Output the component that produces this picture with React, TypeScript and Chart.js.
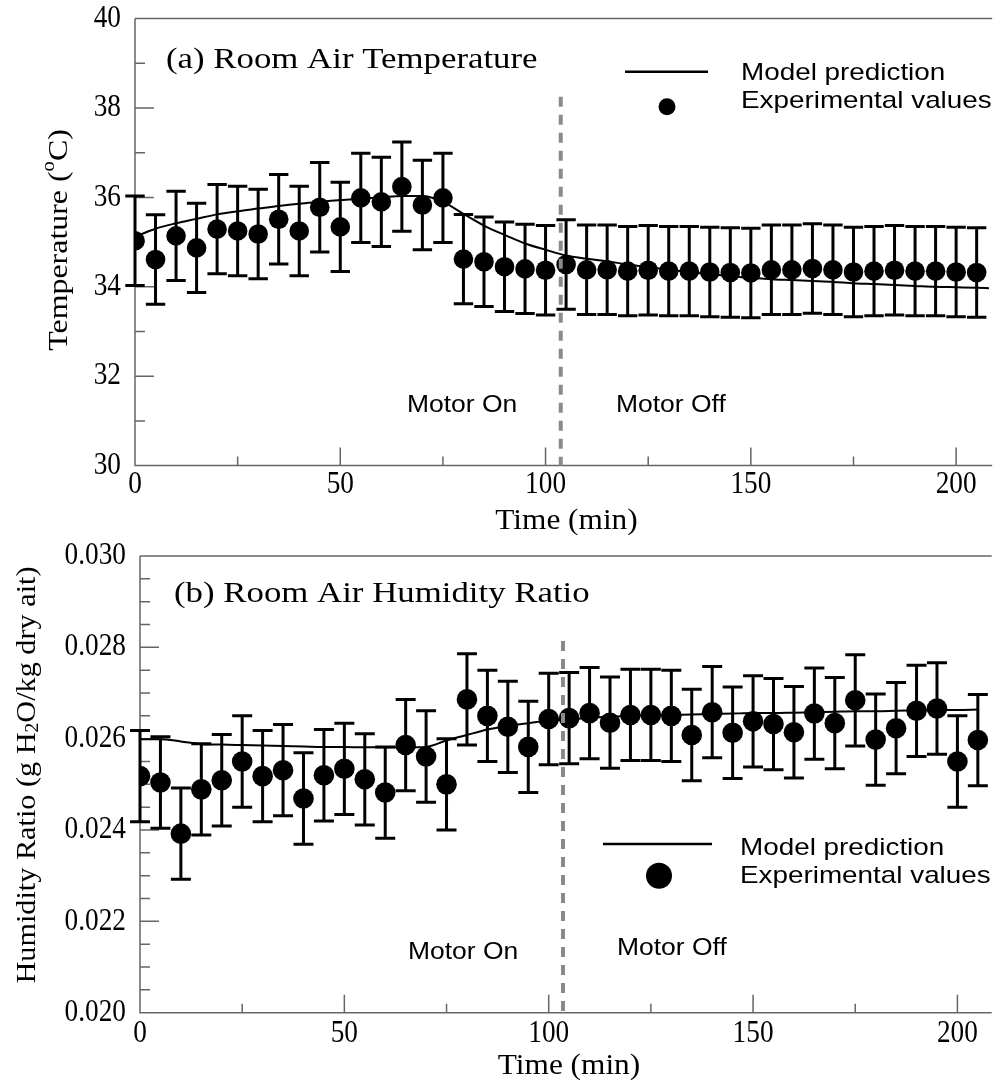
import React, { useEffect, useRef } from "react";
import { Chart, registerables } from "chart.js";
Chart.register(...registerables);

// ---------------- DATA ----------------
const TIME = [0, 5, 10, 15, 20, 25, 30, 35, 40, 45, 50, 55, 60, 65, 70, 75, 80, 85, 90, 95, 100, 105, 110, 115, 120, 125, 130, 135, 140, 145, 150, 155, 160, 165, 170, 175, 180, 185, 190, 195, 200, 205];

const TEMP_EXP = [35.03, 34.61, 35.14, 34.87, 35.29, 35.25, 35.18, 35.51, 35.25, 35.78, 35.34, 35.99, 35.9, 36.24, 35.83, 35.99, 34.62, 34.56, 34.45, 34.4, 34.37, 34.5, 34.38, 34.38, 34.35, 34.37, 34.35, 34.35, 34.33, 34.32, 34.31, 34.38, 34.38, 34.41, 34.38, 34.33, 34.35, 34.37, 34.35, 34.35, 34.33, 34.32];
const TEMP_ERR = 1.0;

const TEMP_MODEL_TIME = [0, 5, 10, 15, 20, 25, 30, 35, 40, 45, 50, 55, 60, 65, 70, 75, 80, 85, 90, 95, 100, 105, 110, 115, 120, 125, 130, 135, 140, 145, 150, 155, 160, 165, 170, 175, 180, 185, 190, 195, 200, 205, 208];
const TEMP_MODEL = [35.12, 35.3, 35.42, 35.52, 35.62, 35.69, 35.75, 35.81, 35.86, 35.9, 35.94, 35.97, 36.0, 36.03, 36.03, 35.9, 35.63, 35.37, 35.16, 34.97, 34.83, 34.7, 34.63, 34.57, 34.5, 34.44, 34.38, 34.33, 34.28, 34.24, 34.2, 34.17, 34.15, 34.13, 34.11, 34.08, 34.06, 34.04, 34.02, 34.0, 33.99, 33.98, 33.97];

const HUM_EXP = [0.02518, 0.02504, 0.02392, 0.02489, 0.02509, 0.0255, 0.02518, 0.02531, 0.02469, 0.0252, 0.02534, 0.02511, 0.02482, 0.02586, 0.02561, 0.025, 0.02686, 0.0265, 0.02626, 0.02582, 0.02643, 0.02645, 0.02656, 0.02635, 0.02652, 0.02652, 0.0265, 0.02608, 0.02658, 0.02613, 0.02638, 0.02632, 0.02614, 0.02655, 0.02634, 0.02684, 0.02598, 0.02623, 0.02661, 0.02666, 0.0255, 0.02597];
const HUM_ERR = 0.001;

const HUM_MODEL_TIME = TIME;
const HUM_MODEL = [0.02599, 0.02599, 0.02594, 0.02588, 0.02587, 0.02586, 0.02585, 0.02584, 0.02583, 0.02582, 0.02582, 0.02581, 0.02581, 0.02581, 0.02582, 0.02596, 0.02608, 0.0262, 0.02628, 0.02634, 0.02639, 0.02642, 0.02646, 0.02648, 0.0265, 0.02651, 0.02652, 0.02653, 0.02654, 0.02655, 0.02656, 0.02656, 0.02657, 0.02658, 0.02659, 0.0266, 0.0266, 0.02661, 0.02662, 0.02663, 0.02663, 0.02664];

const X_MAJOR = [0, 50, 100, 150, 200];
const X_MINOR = [25, 75, 125, 175];
const TEMP_MAJOR = [30, 32, 34, 36, 38, 40];
const TEMP_MINOR = [31, 33, 35, 37, 39];
const HUM_MAJOR = [0.02, 0.022, 0.024, 0.026, 0.028, 0.03];
const HUM_MINOR = [0.0205, 0.021, 0.0215, 0.0225, 0.023, 0.0235, 0.0245, 0.025, 0.0255, 0.0265, 0.027, 0.0275, 0.0285, 0.029, 0.0295];

const MOTOR_SWITCH_A = 103.7;
const MOTOR_SWITCH_B = 103.5;

// ---------------- STYLE HELPERS ----------------
const SERIF = '"Liberation Serif", "Times New Roman", serif';
const SANS = '"Liberation Sans", Arial, sans-serif';

function drawStretched(ctx: CanvasRenderingContext2D, text: string, x: number, y: number, font: string, align: string, sx: number, baseline: CanvasTextBaseline = "alphabetic") {
  ctx.save();
  ctx.font = font;
  ctx.textBaseline = baseline;
  ctx.textAlign = "left";
  const w = ctx.measureText(text).width * sx;
  let x0 = x;
  if (align === "center") x0 = x - w / 2;
  else if (align === "right") x0 = x - w;
  ctx.translate(x0, y);
  ctx.scale(sx, 1);
  ctx.fillStyle = "#000";
  ctx.fillText(text, 0, 0);
  ctx.restore();
}

type Seg = { t: string; mode?: "sup" | "sub" };
function drawRich(ctx: CanvasRenderingContext2D, segs: Seg[], cx: number, cy: number, size: number, sx: number, rotate: boolean) {
  ctx.save();
  ctx.translate(cx, cy);
  if (rotate) ctx.rotate(-Math.PI / 2);
  ctx.scale(sx, 1);
  ctx.textBaseline = "middle";
  ctx.textAlign = "left";
  ctx.fillStyle = "#000";
  const fontOf = (s: Seg) => `${s.mode ? Math.round(size * 0.65) : size}px ${SERIF}`;
  const widths = segs.map((s) => {
    ctx.font = fontOf(s);
    return ctx.measureText(s.t).width;
  });
  const total = widths.reduce((a, b) => a + b, 0);
  let x = -total / 2;
  segs.forEach((s, i) => {
    ctx.font = fontOf(s);
    const dy = s.mode === "sup" ? -size * 0.38 : s.mode === "sub" ? size * 0.2 : 0;
    ctx.fillText(s.t, x, dy);
    x += widths[i];
  });
  ctx.restore();
}

interface Panel {
  pad: { top: number; bottom: number; left: number; right: number };
  xMax: number;
  yMin: number;
  yMax: number;
  yMajor: number[];
  yMinor: number[];
  yFmt: (v: number) => string;
  exp: number[];
  err: number;
  modelTime: number[];
  model: number[];
  dotR: number;
  capHalf: number;
  dashX: number;
  dashTop: number;
  title: string;
  titleX: number;
  titleY: number;
  yTitle: Seg[];
  yTitleX: number;
  yTitleY: number;
  yTitleSx: number;
  xTitleY: number;
  xLabelOff: number;
  legLine: [number, number, number];
  legTextX: number;
  legY1: number;
  legY2: number;
  legDot: [number, number, number];
  motorOn: [number, number];
  motorOff: [number, number];
}

function makeDeco(p: Panel) {
  return {
    id: "deco",
    beforeDatasetsDraw(chart: any) {
      const ctx: CanvasRenderingContext2D = chart.ctx;
      const xs = chart.scales.x;
      const ys = chart.scales.y;
      const a = chart.chartArea;
      ctx.save();
      // axes & frame
      ctx.strokeStyle = "#666";
      ctx.lineWidth = 1.5;
      ctx.beginPath();
      ctx.moveTo(a.left, a.top);
      ctx.lineTo(a.right + 2, a.top);
      ctx.moveTo(a.left, a.top);
      ctx.lineTo(a.left, a.bottom);
      ctx.lineTo(a.right + 2, a.bottom);
      // ticks (inward)
      X_MAJOR.forEach((v) => {
        const px = xs.getPixelForValue(v);
        ctx.moveTo(px, a.bottom);
        ctx.lineTo(px, a.bottom - 18);
      });
      X_MINOR.forEach((v) => {
        const px = xs.getPixelForValue(v);
        ctx.moveTo(px, a.bottom);
        ctx.lineTo(px, a.bottom - 9);
      });
      p.yMajor.forEach((v) => {
        const py = ys.getPixelForValue(v);
        ctx.moveTo(a.left, py);
        ctx.lineTo(a.left + 19, py);
      });
      p.yMinor.forEach((v) => {
        const py = ys.getPixelForValue(v);
        ctx.moveTo(a.left, py);
        ctx.lineTo(a.left + 10, py);
      });
      ctx.stroke();
      // error bars
      ctx.strokeStyle = "#000";
      ctx.lineWidth = 3;
      ctx.lineCap = "butt";
      ctx.beginPath();
      TIME.forEach((t, i) => {
        const px = xs.getPixelForValue(t);
        const top = ys.getPixelForValue(p.exp[i] + p.err);
        const bot = ys.getPixelForValue(p.exp[i] - p.err);
        ctx.moveTo(px, top);
        ctx.lineTo(px, bot);
        ctx.moveTo(px - p.capHalf, top);
        ctx.lineTo(px + p.capHalf, top);
        ctx.moveTo(px - p.capHalf, bot);
        ctx.lineTo(px + p.capHalf, bot);
      });
      ctx.stroke();
      ctx.restore();
    },
    afterDatasetsDraw(chart: any) {
      const ctx: CanvasRenderingContext2D = chart.ctx;
      const xs = chart.scales.x;
      const ys = chart.scales.y;
      const a = chart.chartArea;
      ctx.save();
      // dashed motor switch line
      const dx = xs.getPixelForValue(p.dashX);
      ctx.strokeStyle = "#8a8a8a";
      ctx.lineWidth = 4;
      ctx.setLineDash([10, 8]);
      ctx.beginPath();
      ctx.moveTo(dx, ys.getPixelForValue(p.dashTop));
      ctx.lineTo(dx, a.bottom);
      ctx.stroke();
      ctx.setLineDash([]);

      // tick labels
      X_MAJOR.forEach((v) => {
        drawStretched(ctx, String(v), xs.getPixelForValue(v), a.bottom + p.xLabelOff, `31px ${SERIF}`, "center", 0.88, "middle");
      });
      p.yMajor.forEach((v) => {
        drawStretched(ctx, p.yFmt(v), a.left - 14, ys.getPixelForValue(v), `31px ${SERIF}`, "right", 0.88, "middle");
      });
      // axis titles
      drawStretched(ctx, "Time (min)", (a.left + 1000) / 2 - 1, p.xTitleY, `29px ${SERIF}`, "center", 1.08, "middle");
      drawRich(ctx, p.yTitle, p.yTitleX, p.yTitleY, 28, p.yTitleSx, true);
      // panel title
      drawStretched(ctx, p.title, p.titleX, p.titleY, `30px ${SERIF}`, "left", 1.16);

      // legend
      ctx.strokeStyle = "#000";
      ctx.lineWidth = 2.6;
      ctx.beginPath();
      ctx.moveTo(p.legLine[0], p.legLine[2]);
      ctx.lineTo(p.legLine[1], p.legLine[2]);
      ctx.stroke();
      ctx.fillStyle = "#000";
      ctx.beginPath();
      ctx.arc(p.legDot[0], p.legDot[1], p.legDot[2], 0, Math.PI * 2);
      ctx.fill();
      drawStretched(ctx, "Model prediction", p.legTextX, p.legY1, `24px ${SANS}`, "left", 1.16);
      drawStretched(ctx, "Experimental values", p.legTextX, p.legY2, `24px ${SANS}`, "left", 1.16);

      // motor labels
      drawStretched(ctx, "Motor On", p.motorOn[0], p.motorOn[1], `23px ${SANS}`, "left", 1.15);
      drawStretched(ctx, "Motor Off", p.motorOff[0], p.motorOff[1], `23px ${SANS}`, "left", 1.15);
      ctx.restore();
    },
  };
}

function buildChart(canvas: HTMLCanvasElement, p: Panel) {
  return new Chart(canvas, {
    type: "scatter",
    data: {
      datasets: [
        {
          type: "line",
          label: "Model prediction",
          data: p.modelTime.map((t, i) => ({ x: t, y: p.model[i] })),
          borderColor: "#000",
          borderWidth: 2,
          pointRadius: 0,
          cubicInterpolationMode: "monotone",
          fill: false,
          order: 2,
        } as any,
        {
          type: "scatter",
          label: "Experimental values",
          data: TIME.map((t, i) => ({ x: t, y: p.exp[i] })),
          pointRadius: p.dotR,
          pointBackgroundColor: "#000",
          pointBorderWidth: 0,
          borderWidth: 0,
          order: 1,
        } as any,
      ],
    },
    options: {
      responsive: false,
      animation: false,
      devicePixelRatio: 1,
      events: [],
      layout: { padding: p.pad },
      scales: {
        x: { type: "linear", min: 0, max: p.xMax, display: false },
        y: { type: "linear", min: p.yMin, max: p.yMax, display: false },
      },
      plugins: { legend: { display: false }, tooltip: { enabled: false } },
    } as any,
    plugins: [makeDeco(p)],
  });
}

const PANEL_A: Panel = {
  pad: { top: 18.6, bottom: 77.4, left: 135, right: 0 },
  xMax: 208.3,
  yMin: 30,
  yMax: 40,
  yMajor: TEMP_MAJOR,
  yMinor: TEMP_MINOR,
  yFmt: (v) => String(v),
  exp: TEMP_EXP,
  err: TEMP_ERR,
  modelTime: TEMP_MODEL_TIME,
  model: TEMP_MODEL,
  dotR: 9.8,
  capHalf: 9.7,
  dashX: MOTOR_SWITCH_A,
  dashTop: 38.25,
  title: "(a) Room Air Temperature",
  titleX: 166,
  titleY: 68,
  yTitle: [{ t: "Temperature (" }, { t: "o", mode: "sup" }, { t: "C)" }],
  yTitleX: 60,
  yTitleY: 240,
  yTitleSx: 1.14,
  xTitleY: 521,
  xLabelOff: 19,
  legLine: [625, 708, 71.7],
  legTextX: 741,
  legY1: 80,
  legY2: 108,
  legDot: [667, 106.7, 8.5],
  motorOn: [407, 411.7],
  motorOff: [616, 411.7],
};

const OFF = 543;
const PANEL_B: Panel = {
  pad: { top: 13, bottom: 73.3, left: 140, right: 0 },
  xMax: 207.9,
  yMin: 0.02,
  yMax: 0.03,
  yMajor: HUM_MAJOR,
  yMinor: HUM_MINOR,
  yFmt: (v) => v.toFixed(3),
  exp: HUM_EXP,
  err: HUM_ERR,
  modelTime: HUM_MODEL_TIME,
  model: HUM_MODEL,
  dotR: 10.3,
  capHalf: 10,
  dashX: MOTOR_SWITCH_B,
  dashTop: 0.02814,
  title: "(b) Room Air Humidity Ratio",
  titleX: 174,
  titleY: 601.7 - OFF,
  yTitle: [{ t: "Humidity Ratio (g H" }, { t: "2", mode: "sub" }, { t: "O/kg dry ait)" }],
  yTitleX: 28,
  yTitleY: 775 - OFF,
  yTitleSx: 1.08,
  xTitleY: 1066 - OFF,
  xLabelOff: 21,
  legLine: [603, 712, 844 - OFF],
  legTextX: 740,
  legY1: 855 - OFF,
  legY2: 883 - OFF,
  legDot: [659, 875.7 - OFF, 13],
  motorOn: [408, 959.3 - OFF],
  motorOff: [617, 955 - OFF],
};

export default function App() {
  const refA = useRef<HTMLCanvasElement>(null);
  const refB = useRef<HTMLCanvasElement>(null);
  useEffect(() => {
    const a = buildChart(refA.current!, PANEL_A);
    const b = buildChart(refB.current!, PANEL_B);
    return () => {
      a.destroy();
      b.destroy();
    };
  }, []);
  return (
    <div style={{ position: "absolute", left: 0, top: 0, width: 1000, height: 1086, background: "#fff", overflow: "hidden" }}>
      <canvas ref={refA} width={1000} height={543} style={{ display: "block", width: 1000, height: 543 }} />
      <canvas ref={refB} width={1000} height={543} style={{ display: "block", width: 1000, height: 543 }} />
    </div>
  );
}
